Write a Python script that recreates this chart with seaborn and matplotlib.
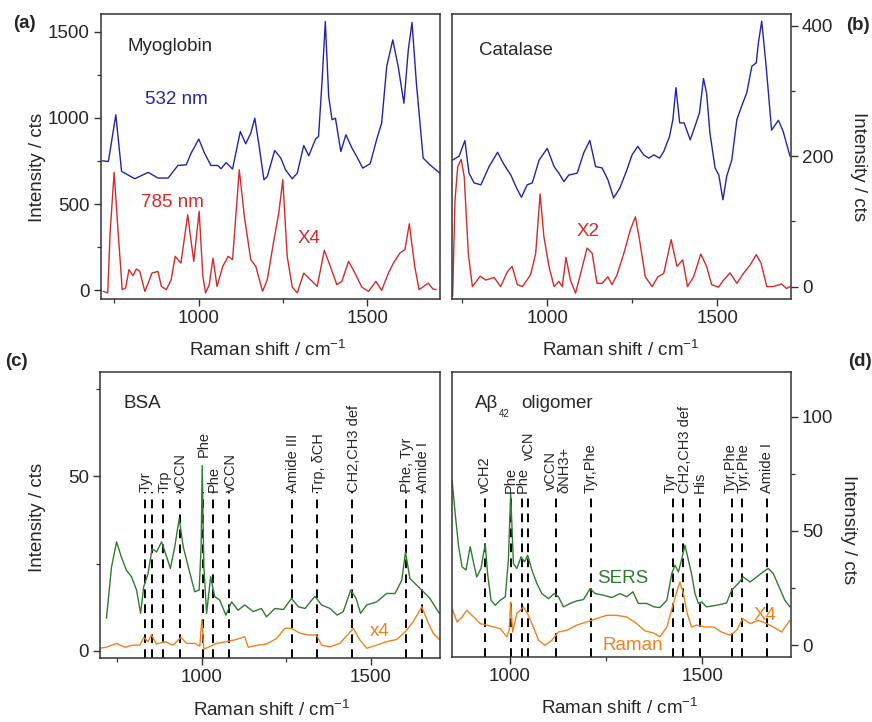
# ==========================================
# Raman / SERS spectra of proteins (4 panels)
# ==========================================

import matplotlib
matplotlib.use("Agg")
import matplotlib.pyplot as plt
from matplotlib.ticker import MultipleLocator
import seaborn as sns

# ==========================================
# Data
# ==========================================

# (a) Myoglobin
myo_532_x = [714, 732, 754, 771, 810, 850, 879, 909, 938, 963, 977, 1000, 1017, 1036, 1056,
             1066, 1081, 1100, 1123, 1139, 1154, 1166, 1179, 1193, 1203, 1225, 1243, 1257,
             1277, 1292, 1311, 1326, 1346, 1355, 1365, 1375, 1385, 1395, 1405, 1421, 1436,
             1454, 1468, 1486, 1508, 1527, 1542, 1557, 1575, 1591, 1608, 1621, 1632, 1645,
             1665, 1685, 1714]
myo_532_y = [751, 747, 1018, 690, 647, 684, 651, 651, 724, 728, 795, 877, 795, 724, 724,
             705, 741, 703, 921, 850, 911, 998, 834, 641, 660, 811, 767, 699,
             647, 680, 840, 780, 877, 892, 1201, 1558, 1124, 989, 998, 805, 902,
             825, 776, 709, 734, 873, 969, 1298, 1452, 1298, 1085, 1394, 1553, 1201,
             767, 728, 680]

myo_785_x = [717, 730, 737, 749, 761, 773, 783, 793, 805, 815, 825, 840, 850, 861, 879,
             889, 904, 918, 930, 947, 967, 985, 1001, 1012, 1020, 1031, 1042, 1054, 1071,
             1087, 1100, 1120, 1135, 1154, 1169, 1189, 1203, 1222, 1237, 1249, 1262, 1277,
             1292, 1311, 1331, 1351, 1372, 1390, 1409, 1424, 1444, 1463, 1483, 1503, 1525,
             1542, 1562, 1577, 1596, 1611, 1624, 1640, 1653, 1680, 1694, 1704]
myo_785_y = [-6, -15, 332, 684, 332, 4, 14, 120, 85, 124, 110, -6, 42, 100, 110,
             23, 4, 62, 197, 158, 438, 168, 458, 81, -15, 33, 187, 23, 139,
             197, 178, 699, 429, 178, 139, -6, 62, 284, 448, 641, 197, 19,
             -15, 100, 62, 23, 232, 139, 33, 52, 168, 100, 19, -6, 52,
             0, 100, 158, 216, 236, 386, 139, 4, 42, 8, 4]

# (b) Catalase
cat_532_x = [722, 741, 758, 770, 785, 805, 829, 854, 873, 893, 910, 924, 941, 956, 976,
             1000, 1020, 1034, 1049, 1063, 1088, 1107, 1125, 1142, 1161, 1178, 1195, 1213,
             1234, 1249, 1266, 1283, 1298, 1313, 1330, 1342, 1359, 1369, 1378, 1389, 1402,
             1420, 1434, 1447, 1459, 1468, 1478, 1493, 1504, 1516, 1527, 1542, 1557, 1574,
             1586, 1601, 1614, 1620, 1630, 1643, 1659, 1679, 1693, 1713]
cat_532_y = [194, 200, 224, 174, 159, 156, 184, 206, 187, 171, 151, 137, 156, 159, 194,
             212, 184, 174, 161, 171, 174, 205, 224, 184, 182, 164, 136, 151,
             179, 202, 215, 202, 197, 202, 197, 207, 230, 256, 305, 251, 251,
             225, 246, 266, 319, 297, 235, 182, 171, 133, 169, 194, 256, 281,
             297, 338, 343, 373, 407, 338, 240, 255, 238, 200]

cat_785_x = [722, 729, 737, 747, 756, 768, 780, 803, 819, 844, 863, 883, 897, 912, 927,
             951, 966, 979, 990, 1005, 1020, 1034, 1044, 1055, 1068, 1083, 1098, 1117,
             1132, 1146, 1161, 1178, 1190, 1205, 1225, 1244, 1259, 1271, 1288, 1308, 1325,
             1342, 1364, 1381, 1398, 1412, 1430, 1451, 1468, 1483, 1503, 1518, 1537, 1557,
             1576, 1596, 1614, 1628, 1645, 1664, 1688, 1703, 1713]
cat_785_y = [-15, 133, 184, 195, 169, 51, 0, 16, 10, 14, 0, 23, 31, 3, 0,
             18, 51, 142, 77, 31, 0, 8, 0, 45, 10, -10, 20, 59,
             51, 5, 5, 15, 3, 18, 51, 87, 107, 72, 15, 0, 15,
             20, 72, 31, 41, 0, 15, 50, 31, 3, -1, 10, 21, 5,
             20, 33, 49, 36, 0, 0, 4, -3, 0]

# (c) BSA
bsa_sers_x = [719, 734, 749, 763, 778, 793, 808, 820, 829, 842, 854, 867, 882, 897, 908,
              921, 934, 946, 961, 980, 993, 999, 1002, 1007, 1015, 1027, 1039, 1054, 1072,
              1089, 1108, 1128, 1153, 1177, 1192, 1217, 1242, 1266, 1286, 1306, 1335, 1355,
              1380, 1401, 1419, 1441, 1457, 1470, 1488, 1518, 1547, 1572, 1592, 1603, 1616,
              1636, 1651, 1675, 1703]
bsa_sers_y = [9.3, 24, 31.2, 26.9, 23.1, 21.2, 17.4, 10.7, 18.3, 22.1, 29.3, 28.3, 31.2, 26.9, 23.6,
              29.8, 37.9, 29.8, 24, 16.9, 17.4, 30, 53.1, 24, 10.7, 21.2, 15.5, 14.5, 10.2,
              14, 11.6, 13.1, 11.2, 12.1, 9.7, 12.1, 11.8, 15, 12.6, 12.1, 15.6, 13.1,
              12.1, 10.2, 11.2, 17.4, 15, 10.7, 13.1, 14, 16.4, 16.4, 20.2, 28.3, 20.7,
              18.8, 17.4, 15, 10.7]

bsa_raman_x = [699, 719, 749, 773, 798, 818, 829, 842, 852, 867, 892, 916, 939, 956, 980,
               995, 1001, 1007, 1020, 1044, 1074, 1099, 1128, 1138, 1168, 1192, 1222, 1246,
               1266, 1291, 1316, 1340, 1355, 1380, 1409, 1434, 1449, 1468, 1488, 1518, 1547,
               1577, 1602, 1626, 1651, 1671, 1685, 1703]
bsa_raman_y = [0.7, 1, 2.1, 1, 1.6, 1.6, 3.8, 2.6, 4.5, 1.9, 2.6, 1.6, 3.8, 2.1, 2.1,
               1.3, 8.8, 0.4, 1, 2.1, 2.6, 3.1, 4, 1, 1.6, 1.9, 3.5, 6.4,
               6.4, 5, 4.5, 4.5, 1.6, 1.1, 2.1, 4.8, 6.4, 3.1, 0.7, 1.6, 2.6,
               3.2, 5.4, 8.3, 12.6, 7.8, 5, 3.2]

bsa_bands = [832, 854, 887, 936, 1003, 1033, 1082, 1267, 1342, 1446, 1604, 1651]
bsa_names = ["Tyr", "", "Trp", "vCCN", "Phe", "Phe", "vCCN", "Amide III",
             "Trp, δCH", "CH2,CH3 def", "Phe, Tyr", "Amide I"]

# (d) Abeta42 oligomer
abeta_sers_x = [851, 859, 868, 877, 887, 898, 907, 915, 926, 937, 943, 952, 963, 976, 989,
                997, 1003, 1010, 1019, 1030, 1039, 1047, 1058, 1071, 1084, 1101, 1116, 1127,
                1140, 1157, 1174, 1192, 1209, 1222, 1244, 1265, 1287, 1304, 1320, 1334, 1356,
                1375, 1390, 1408, 1421, 1429, 1438, 1448, 1455, 1464, 1472, 1481, 1490, 1498,
                1511, 1537, 1563, 1576, 1593, 1606, 1624, 1641, 1658, 1671, 1684, 1701, 1714,
                1727]
abeta_sers_y = [72.3, 57.7, 43.1, 34.3, 32.9, 43.1, 35.8, 29.9, 33.6, 44.5, 31.4, 19.7, 17.5, 19.7, 21.2,
                37.2, 66.4, 35.8, 33.6, 38.7, 36.5, 39.4, 32.9, 27, 22.6, 20.4, 22.6, 21.2,
                16.8, 18.3, 19.4, 20, 24.8, 22.6, 21.9, 20.9, 22.6, 21.2, 23.4, 18.3, 18.3,
                16.8, 16.5, 19.7, 31.4, 35, 32.1, 38.7, 43.8, 37.2, 31.4, 22.6, 18.3, 19,
                16.8, 17.5, 18.5, 24.1, 27, 29.9, 27.7, 29.9, 32.1, 33.6, 31.4, 24.8, 19.7,
                16.8]

abeta_raman_x = [851, 864, 877, 889, 907, 924, 941, 959, 976, 993, 999, 1003, 1008, 1019, 1036,
                 1049, 1062, 1075, 1092, 1110, 1127, 1149, 1174, 1200, 1226, 1252, 1278, 1304,
                 1330, 1351, 1373, 1390, 1408, 1425, 1435, 1442, 1451, 1461, 1472, 1485, 1507,
                 1529, 1550, 1572, 1589, 1605, 1624, 1645, 1667, 1684, 1706, 1727]
abeta_raman_y = [16.1, 10.2, 12.4, 15.3, 12.4, 9.5, 8.8, 8, 7.3, 3.7, 6.6, 19, 5.8, 13.9, 16.8,
                 13.1, 8, 2.2, 0, 2.2, 5.8, 6.6, 8.8, 10.2, 11.7, 13.1, 13.1, 12.4,
                 9.5, 6.3, 5.4, 3.7, 8, 18.3, 24.1, 27.7, 22.6, 13.9, 8, 8.8, 8,
                 8, 5.8, 4.4, 6.6, 11.7, 9.5, 10.9, 9.5, 8, 5.8, 10.9]

abeta_bands = [937, 1004, 1032, 1047, 1120, 1211, 1425, 1451, 1494, 1578, 1604, 1667]
abeta_names = ["vCH2", "Phe", "Phe", "vCN", "vCCN\nδNH3+", "Tyr,Phe", "Tyr",
               "CH2,CH3 def", "His", "Tyr,Phe", "Tyr,Phe", "Amide I"]

# ==========================================
# Style
# ==========================================

sns.set_theme(style="ticks")
plt.rcParams["font.family"] = ["Liberation Sans", "DejaVu Sans"]
plt.rcParams["mathtext.fontset"] = "custom"
plt.rcParams["mathtext.rm"] = "Liberation Sans"
plt.rcParams["mathtext.it"] = "Liberation Sans:italic"

BLUE = "#2424a8"
RED = "#d42a2a"
GREEN = "#2e7d2e"
ORANGE = "#f0821e"
FS = 13.5

fig = plt.figure(figsize=(8.72, 7.22), dpi=100)

ax_a = fig.add_axes([0.1158, 0.5859, 0.3888, 0.3947])
ax_b = fig.add_axes([0.5183, 0.5859, 0.3888, 0.3947])
ax_c = fig.add_axes([0.1147, 0.0891, 0.3899, 0.3961])
ax_d = fig.add_axes([0.5180, 0.0904, 0.3891, 0.3940])


def style_axis(ax, right=False):
    for s in ax.spines.values():
        s.set_color("#333333")
        s.set_linewidth(1.1)
    ax.tick_params(which="major", direction="out", length=5, width=1.0,
                   labelsize=FS, color="#333333", pad=3)
    ax.tick_params(which="minor", direction="out", length=3, width=0.9,
                   color="#333333")
    if right:
        ax.yaxis.tick_right()
        ax.yaxis.set_label_position("right")
    ax.set_xlabel("")
    ax.set_ylabel("")


def spectrum(ax, x, y, color):
    sns.lineplot(x=x, y=y, ax=ax, color=color, lw=1.0, estimator=None, sort=False)


# ==========================================
# (a) Myoglobin
# ==========================================

spectrum(ax_a, myo_532_x, myo_532_y, BLUE)
spectrum(ax_a, myo_785_x, myo_785_y, RED)
ax_a.set_xlim(710, 1715)
ax_a.set_ylim(-50, 1602)
ax_a.xaxis.set_major_locator(MultipleLocator(500))
ax_a.xaxis.set_minor_locator(MultipleLocator(250))
ax_a.yaxis.set_major_locator(MultipleLocator(500))
ax_a.yaxis.set_minor_locator(MultipleLocator(250))
style_axis(ax_a)
ax_a.text(789, 1413, "Myoglobin", fontsize=FS, va="center")
ax_a.text(840, 1105, "532 nm", fontsize=FS, color=BLUE, va="center")
ax_a.text(828, 512, "785 nm", fontsize=FS, color=RED, va="center")
ax_a.text(1292, 303, "X4", fontsize=FS, color=RED, va="center")

# ==========================================
# (b) Catalase
# ==========================================

spectrum(ax_b, cat_532_x, cat_532_y, BLUE)
spectrum(ax_b, cat_785_x, cat_785_y, RED)
ax_b.set_xlim(720, 1716)
ax_b.set_ylim(-19, 418)
ax_b.xaxis.set_major_locator(MultipleLocator(500))
ax_b.xaxis.set_minor_locator(MultipleLocator(250))
ax_b.yaxis.set_major_locator(MultipleLocator(200))
ax_b.yaxis.set_minor_locator(MultipleLocator(100))
style_axis(ax_b, right=True)
ax_b.text(800, 362, "Catalase", fontsize=FS, va="center")
ax_b.text(1085, 84, "X2", fontsize=FS, color=RED, va="center")

# ==========================================
# (c) BSA
# ==========================================

spectrum(ax_c, bsa_sers_x, bsa_sers_y, GREEN)
spectrum(ax_c, bsa_raman_x, bsa_raman_y, ORANGE)
ax_c.set_xlim(700, 1705)
ax_c.set_ylim(-2, 80)
ax_c.xaxis.set_major_locator(MultipleLocator(500))
ax_c.xaxis.set_minor_locator(MultipleLocator(250))
ax_c.yaxis.set_major_locator(MultipleLocator(50))
ax_c.yaxis.set_minor_locator(MultipleLocator(25))
style_axis(ax_c)

for wn, name in zip(bsa_bands, bsa_names):
    ax_c.plot([wn, wn], [-2, 45.5], color="black", lw=1.4, ls=(0, (4.5, 3.2)), zorder=1)
    top = 55.5 if (name == "Phe" and wn < 1010) else 45.5
    if name:
        ax_c.text(wn + 4, top, name, rotation=90, fontsize=10.5, ha="center", va="bottom")

ax_c.text(770, 70.8, "BSA", fontsize=FS, va="center")
ax_c.text(1498, 5.4, "x4", fontsize=FS, color=ORANGE, va="center")

# ==========================================
# (d) Abeta42 oligomer
# ==========================================

spectrum(ax_d, abeta_sers_x, abeta_sers_y, GREEN)
spectrum(ax_d, abeta_raman_x, abeta_raman_y, ORANGE)
ax_d.set_xlim(850, 1730)
ax_d.set_ylim(-5, 119.4)
ax_d.xaxis.set_major_locator(MultipleLocator(500))
ax_d.xaxis.set_minor_locator(MultipleLocator(250))
ax_d.yaxis.set_major_locator(MultipleLocator(50))
ax_d.yaxis.set_minor_locator(MultipleLocator(25))
style_axis(ax_d, right=True)

# small sideways nudges so that neighbouring labels do not collide
label_nudge = [0, -2, 2, 3, 6, 0, -8, 4, 0, -5, 4, 0]

for wn, name, dx in zip(abeta_bands, abeta_names, label_nudge):
    ax_d.plot([wn, wn], [-5, 65], color="black", lw=1.4, ls=(0, (4.5, 3.2)), zorder=1)
    top = 81 if name == "vCN" else 66.5
    ax_d.text(wn + dx, top, name, rotation=90, fontsize=10.5, ha="center", va="bottom",
              linespacing=0.95)

ax_d.text(911, 105.9, "Aβ", fontsize=FS, va="center")
ax_d.text(972, 101, "42", fontsize=7, va="center")
ax_d.text(1030, 105.9, "oligomer", fontsize=FS, va="center")
ax_d.text(1226, 29.2, "SERS", fontsize=FS, color=GREEN, va="center")
ax_d.text(1242, 0, "Raman", fontsize=FS, color=ORANGE, va="center")
ax_d.text(1634, 13, "X4", fontsize=FS, color=ORANGE, va="center")

# ==========================================
# Figure labels
# ==========================================

xlab = "Raman shift / cm$^{-1}$"
fig.text(268 / 872, 1 - 350 / 722, xlab, fontsize=FS, ha="center", va="center")
fig.text(621 / 872, 1 - 350 / 722, xlab, fontsize=FS, ha="center", va="center")
fig.text(272 / 872, 1 - 710 / 722, xlab, fontsize=FS, ha="center", va="center")
fig.text(620 / 872, 1 - 708 / 722, xlab, fontsize=FS, ha="center", va="center")

ylab = "Intensity / cts"
fig.text(38 / 872, 1 - 167 / 722, ylab, fontsize=FS, rotation=90, ha="center", va="center")
fig.text(38 / 872, 1 - 517 / 722, ylab, fontsize=FS, rotation=90, ha="center", va="center")
fig.text(858 / 872, 1 - 167 / 722, ylab, fontsize=FS, rotation=270, ha="center", va="center")
fig.text(848 / 872, 1 - 530 / 722, ylab, fontsize=FS, rotation=270, ha="center", va="center")

fig.text(13 / 872, 1 - 23 / 722, "(a)", fontsize=FS, fontweight="bold", va="center")
fig.text(846 / 872, 1 - 25 / 722, "(b)", fontsize=FS, fontweight="bold", va="center")
fig.text(5 / 872, 1 - 362 / 722, "(c)", fontsize=FS, fontweight="bold", va="center")
fig.text(848 / 872, 1 - 362 / 722, "(d)", fontsize=FS, fontweight="bold", va="center")

fig.savefig("out.png", dpi=100)
